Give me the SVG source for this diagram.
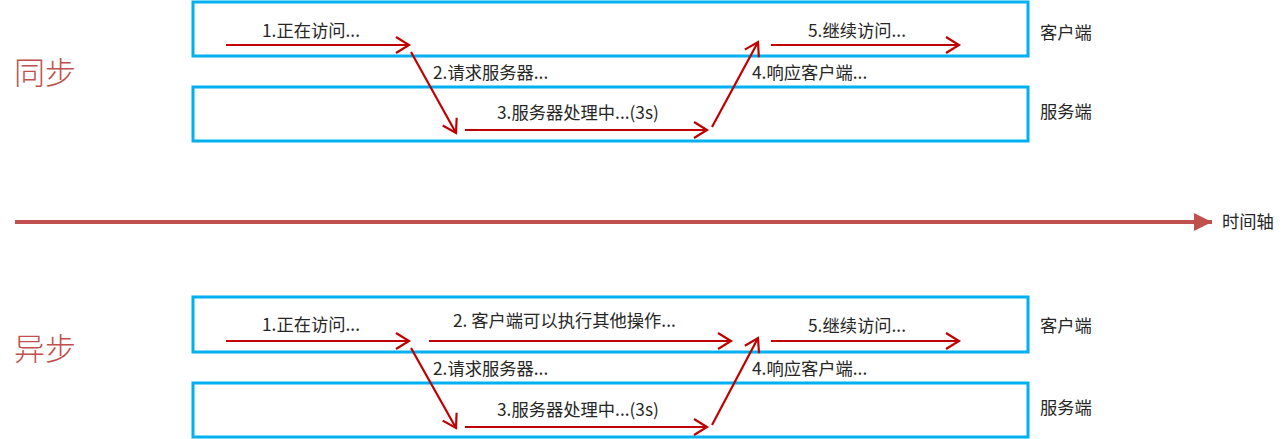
<svg xmlns="http://www.w3.org/2000/svg" width="1288" height="439" viewBox="0 0 1288 439">
<style>
.box{fill:none;stroke:#00B0F0;stroke-width:3}
.arr{fill:none;stroke:#C00000;stroke-width:2.2;marker-end:url(#head)}
.t{font-family:"Noto Sans CJK SC","Microsoft YaHei",sans-serif;font-size:17.3px;fill:#262626}
.big{font-family:"Noto Sans CJK SC",serif;font-size:31px;fill:#C0504D;font-weight:300}
</style>
<defs>
<marker id="head" markerUnits="userSpaceOnUse" markerWidth="20" markerHeight="20" refX="16" refY="10" orient="auto">
<path d="M3,2 L16,10 L3,18" fill="none" stroke="#C00000" stroke-width="2.2"/>
</marker>
<marker id="bighead" markerUnits="userSpaceOnUse" markerWidth="24" markerHeight="24" refX="18" refY="12" orient="auto">
<path d="M0,3 L18,12 L0,21 Z" fill="#C0504D"/>
</marker>
</defs>
<g id="sync">
<g id="sync-client"><rect class="box" x="193" y="2" width="835" height="54"/><text class="t" x="1040" y="39">客户端</text></g>
<g id="sync-server"><rect class="box" x="193" y="87" width="835" height="54"/><text class="t" x="1040" y="118">服务端</text></g>
<text class="big" x="14" y="84">同步</text>
<g id="sync-connectors">
<path class="arr" d="M226,45 H409"/>
<path class="arr" d="M411,52 L456,133"/>
<path class="arr" d="M465,130 H707"/>
<path class="arr" d="M712,127 L758,42"/>
<path class="arr" d="M771,45 H959"/>
</g>
<g id="sync-labels">
<text class="t" x="262" y="37">1.正在访问...</text>
<text class="t" x="433" y="79">2.请求服务器...</text>
<text class="t" x="497" y="119">3.服务器处理中...(3s)</text>
<text class="t" x="752" y="79">4.响应客户端...</text>
<text class="t" x="808" y="37">5.继续访问...</text>
</g>
</g>
<g id="timeline">
<path d="M15,222 H1212" stroke="#C0504D" stroke-width="4" fill="none" marker-end="url(#bighead)"/>
<text class="t" x="1222" y="228">时间轴</text>
</g>
<g id="async">
<g id="async-client"><rect class="box" x="193" y="297" width="835" height="55"/><text class="t" x="1040" y="332">客户端</text></g>
<g id="async-server"><rect class="box" x="193" y="383" width="835" height="54"/><text class="t" x="1040" y="414">服务端</text></g>
<text class="big" x="14" y="360">异步</text>
<g id="async-connectors">
<path class="arr" d="M226,341 H409"/>
<path class="arr" d="M429,341 H731"/>
<path class="arr" d="M411,348 L456,428"/>
<path class="arr" d="M465,427 H707"/>
<path class="arr" d="M712,425 L758,338"/>
<path class="arr" d="M771,341 H959"/>
</g>
<g id="async-labels">
<text class="t" x="262" y="331">1.正在访问...</text>
<text class="t" x="453" y="327">2. 客户端可以执行其他操作...</text>
<text class="t" x="433" y="375">2.请求服务器...</text>
<text class="t" x="497" y="416">3.服务器处理中...(3s)</text>
<text class="t" x="752" y="375">4.响应客户端...</text>
<text class="t" x="808" y="332">5.继续访问...</text>
</g>
</g>
</svg>
